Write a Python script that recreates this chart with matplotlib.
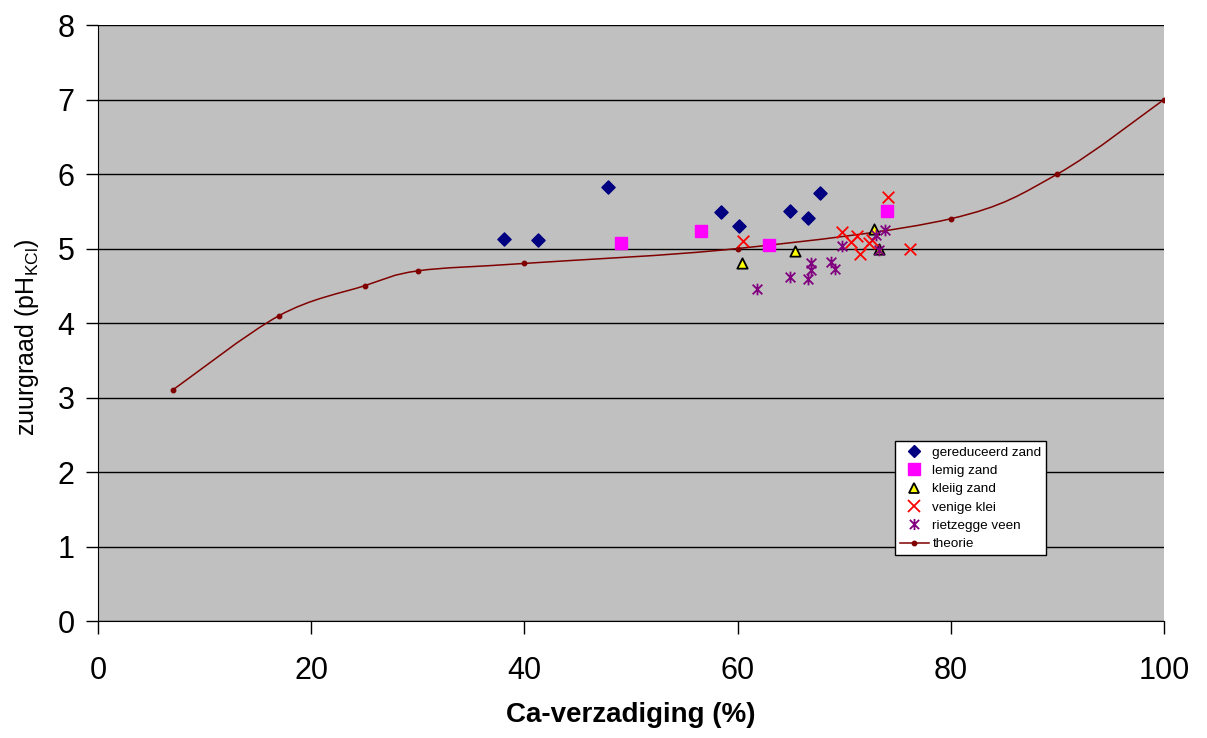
import matplotlib
matplotlib.use("Agg")
import matplotlib.pyplot as plt
import numpy as np
from matplotlib.path import Path
from matplotlib.patches import PathPatch
from matplotlib.lines import Line2D

plt.rcParams['font.family'] = ['Liberation Sans', 'DejaVu Sans']

# gemeten punten per grondsoort
ger_zand_x = [38.1, 41.3, 47.8, 58.4, 60.1, 64.9, 66.6, 67.7]
ger_zand_y = [5.13, 5.11, 5.83, 5.49, 5.30, 5.51, 5.41, 5.74]

lemig_x = [49.1, 56.6, 62.9, 74.0]
lemig_y = [5.07, 5.23, 5.05, 5.51]

kleiig_x = [60.4, 65.4, 72.8, 73.3]
kleiig_y = [4.80, 4.97, 5.26, 4.99]

venig_x = [60.5, 69.8, 70.6, 71.2, 71.5, 72.3, 72.6, 74.1, 76.2]
venig_y = [5.10, 5.22, 5.09, 5.17, 4.93, 5.07, 5.11, 5.69, 4.99]

veen_x = [61.8, 64.9, 66.6, 66.9, 66.9, 68.8, 69.1, 69.8, 73.0, 73.8, 73.3]
veen_y = [4.46, 4.62, 4.59, 4.81, 4.71, 4.82, 4.72, 5.03, 5.18, 5.25, 4.98]

# theoretische curve
theorie_x = [7, 17, 25, 30, 40, 60, 80, 90, 100]
theorie_y = [3.1, 4.1, 4.5, 4.7, 4.8, 5.0, 5.4, 6.0, 7.0]

x_ticks = [0, 20, 40, 60, 80, 100]
y_ticks = [0, 1, 2, 3, 4, 5, 6, 7, 8]


def smooth_path(xs, ys):
    # Bezier door de punten, zoals de vloeiende lijn van Excel
    p = np.column_stack([xs, ys]).astype(float)
    n = len(p)
    verts = [p[0]]
    codes = [Path.MOVETO]
    for i in range(n - 1):
        p0 = p[i - 1] if i > 0 else p[i]
        p1 = p[i]
        p2 = p[i + 1]
        p3 = p[i + 2] if i + 2 < n else p[i + 1]
        c1 = p1 + (p2 - p0) / 6.0
        c2 = p2 - (p3 - p1) / 6.0
        verts += [c1, c2, p2]
        codes += [Path.CURVE4] * 3
    return Path(verts, codes)


# ster-marker: kruis met verticale streep
star = Path([(-1, -1), (1, 1), (-1, 1), (1, -1), (0, -1.2), (0, 1.2)],
            [Path.MOVETO, Path.LINETO, Path.MOVETO, Path.LINETO, Path.MOVETO, Path.LINETO])

fig = plt.figure(figsize=(12.07, 7.38), dpi=100)
ax = fig.add_axes([0.0812, 0.1585, 0.8832, 0.8076])
ax.set_facecolor('#C0C0C0')

ax.scatter(ger_zand_x, ger_zand_y, marker='D', s=45, color='#000080', zorder=3)
ax.scatter(lemig_x, lemig_y, marker='s', s=70, color='#FF00FF', zorder=3)
ax.scatter(kleiig_x, kleiig_y, marker='^', s=55, facecolor='#FFFF00', edgecolor='black',
           linewidths=1.3, zorder=3)
ax.scatter(venig_x, venig_y, marker='x', s=70, color='#FF0000', linewidths=1.3, zorder=3)
ax.scatter(veen_x, veen_y, marker=star, s=70, color='#800080', linewidths=1.3, zorder=3)

ax.add_patch(PathPatch(smooth_path(theorie_x, theorie_y), facecolor='none',
                       edgecolor='#800000', lw=1.1, zorder=2))
ax.plot(theorie_x, theorie_y, linestyle='none', marker='o', ms=3.2, color='#800000', zorder=2)

ax.set_xlim(0, 100)
ax.set_ylim(0, 8)
ax.set_xticks(x_ticks)
ax.set_yticks(y_ticks)
ax.yaxis.grid(True, color='black', lw=1)
ax.set_axisbelow(True)
ax.spines['top'].set_visible(False)
ax.spines['right'].set_visible(False)
ax.tick_params(axis='both', direction='out', length=9, width=1, labelsize=22)
ax.tick_params(axis='x', pad=16)
ax.tick_params(axis='y', pad=8)

ax.set_xlabel('Ca-verzadiging (%)', fontsize=20, fontweight='bold', labelpad=12)
ax.set_ylabel('zuurgraad (pH$_{\\mathregular{KCl}}$)', fontsize=18)
ax.yaxis.set_label_coords(-0.0535, 0.4765)

handles = [
    Line2D([], [], ls='none', marker='D', ms=6, color='#000080'),
    Line2D([], [], ls='none', marker='s', ms=8, color='#FF00FF'),
    Line2D([], [], ls='none', marker='^', ms=7, mfc='#FFFF00', mec='black', mew=1.3),
    Line2D([], [], ls='none', marker='x', ms=8, color='#FF0000', mew=1.3),
    Line2D([], [], ls='none', marker=star, ms=8, color='#800080', mew=1.3),
    Line2D([], [], color='#800000', lw=1.1, marker='o', ms=3.2),
]
labels = ['gereduceerd zand', 'lemig zand', 'kleiig zand', 'venige klei',
          'rietzegge veen', 'theorie']
leg = ax.legend(handles, labels, loc='lower left', bbox_to_anchor=(0.7477, 0.1107),
                borderaxespad=0, fontsize=9.7, frameon=True, fancybox=False,
                edgecolor='black', facecolor='white', framealpha=1,
                labelspacing=0.44, handlelength=2.15, handletextpad=0.27, borderpad=0.35)
leg.get_frame().set_linewidth(1)

fig.savefig('out.png', dpi=100)
